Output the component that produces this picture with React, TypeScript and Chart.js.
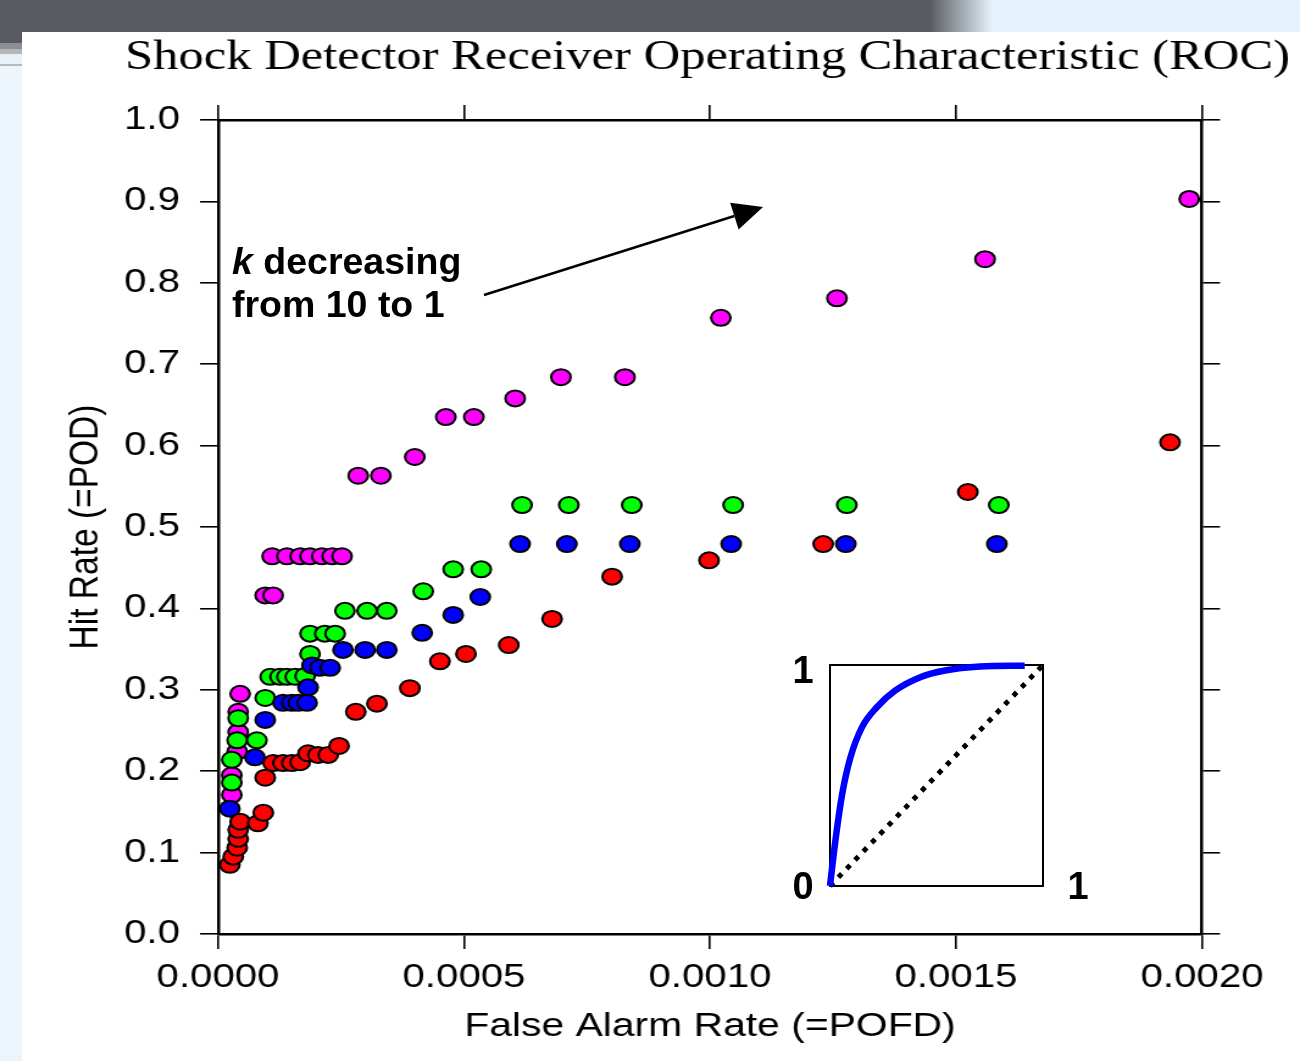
import React, { useEffect, useRef } from "react";
import { Chart, registerables } from "chart.js";

Chart.register(...registerables);

// ---------------- data ----------------
const TITLE = "Shock Detector Receiver Operating Characteristic (ROC)";
const X_TITLE = "False Alarm Rate (=POFD)";
const Y_TITLE = "Hit Rate (=POD)";

const X_TICKS = [0, 0.0005, 0.001, 0.0015, 0.002];
const X_TICK_LABELS = ["0.0000", "0.0005", "0.0010", "0.0015", "0.0020"];
const Y_TICKS = [0, 0.1, 0.2, 0.3, 0.4, 0.5, 0.6, 0.7, 0.8, 0.9, 1.0];
const Y_TICK_LABELS = ["0.0", "0.1", "0.2", "0.3", "0.4", "0.5", "0.6", "0.7", "0.8", "0.9", "1.0"];

const MAGENTA_POFD = [
  0.000028, 0.000028, 0.000039, 0.000041, 0.000041, 0.000045, 0.000096, 0.000112,
  0.00011, 0.00014, 0.000167, 0.000187, 0.000211, 0.000232, 0.000252, 0.000285,
  0.000331, 0.0004, 0.000463, 0.00052, 0.000604, 0.000697, 0.000827, 0.001022,
  0.001258, 0.001559, 0.001974,
];
const MAGENTA_POD = [
  0.171, 0.195, 0.224, 0.248, 0.273, 0.295, 0.416, 0.416,
  0.464, 0.464, 0.464, 0.464, 0.464, 0.464, 0.464, 0.563,
  0.563, 0.586, 0.635, 0.635, 0.658, 0.684, 0.684, 0.757,
  0.781, 0.829, 0.903,
];

const GREEN_POFD = [
  0.000028, 0.000028, 0.000039, 0.000079, 0.000041, 0.000096, 0.000106, 0.000126,
  0.00014, 0.000157, 0.000177, 0.000187, 0.000187, 0.000217, 0.000238, 0.000258,
  0.000303, 0.000343, 0.000417, 0.000478, 0.000535, 0.000618, 0.000713, 0.000841,
  0.001047, 0.001278, 0.001587,
];
const GREEN_POD = [
  0.186, 0.214, 0.238, 0.238, 0.265, 0.29, 0.316, 0.316,
  0.316, 0.316, 0.317, 0.344, 0.369, 0.369, 0.369, 0.397,
  0.397, 0.397, 0.421, 0.448, 0.448, 0.527, 0.527, 0.527,
  0.527, 0.527, 0.527,
];

const BLUE_POFD = [
  0.000024, 0.000075, 0.000096, 0.000132, 0.00015, 0.000163, 0.000181, 0.000183,
  0.000191, 0.000207, 0.000228, 0.000254, 0.000299, 0.000343, 0.000415, 0.000478,
  0.000533, 0.000614, 0.000709, 0.000837, 0.001043, 0.001276, 0.001583,
];
const BLUE_POD = [
  0.154, 0.217, 0.263, 0.284, 0.284, 0.284, 0.284, 0.303,
  0.33, 0.327, 0.327, 0.349, 0.349, 0.349, 0.37, 0.392,
  0.414, 0.479, 0.479, 0.479, 0.479, 0.479, 0.479,
];

const RED_POFD = [
  0.000024, 0.000031, 0.000039, 0.000041, 0.000041, 0.000045, 0.000081, 0.000092,
  0.000096, 0.000112, 0.000132, 0.00015, 0.000167, 0.000183, 0.000203, 0.000224,
  0.000246, 0.00028, 0.000323, 0.00039, 0.000451, 0.000504, 0.000591, 0.000679,
  0.000801, 0.000998, 0.00123, 0.001524, 0.001935,
];
const RED_POD = [
  0.085, 0.095, 0.106, 0.117, 0.128, 0.138, 0.136, 0.149,
  0.192, 0.21, 0.21, 0.21, 0.211, 0.222, 0.22, 0.22,
  0.231, 0.273, 0.283, 0.302, 0.335, 0.344, 0.355, 0.387,
  0.439, 0.459, 0.479, 0.543, 0.604,
];

// inset schematic ROC curve
const INSET_FPR = [0, 0.026, 0.058, 0.097, 0.151, 0.221, 0.307, 0.424, 0.54, 0.704, 0.914];
const INSET_TPR = [0, 0.21, 0.42, 0.585, 0.72, 0.81, 0.885, 0.945, 0.975, 0.993, 0.997];
const DIAG_X = [0, 1];
const DIAG_Y = [0, 1];

const ANNOT_K = "k";
const ANNOT_LINE1 = " decreasing";
const ANNOT_LINE2 = "from 10 to 1";

// ---------------- layout ----------------
const CW = 1066;
const CH = 1061;
const SX = 1300 / CW; // horizontal stretch of the original figure
const PLOT_L = 218 / SX;
const PLOT_R = 1202 / SX;
const PLOT_T = 120;
const PLOT_B = 934;
const TITLE_SIZE = 41.5;
const TITLE_PAD_TOP = 33;
const TITLE_H = TITLE_PAD_TOP + TITLE_SIZE * 1.2;
const PAD_R = CW - 1290 / SX;
const Y_TICK_LEN = 18 / SX;

const SANS = "'Liberation Sans', Arial, Helvetica, sans-serif";
const SERIF = "'Liberation Serif', 'Times New Roman', serif";

const zip = (xs: number[], ys: number[]) => xs.map((x, i) => ({ x, y: ys[i] }));

const pointDs = (label: string, xs: number[], ys: number[], color: string) => ({
  label,
  data: zip(xs, ys),
  showLine: false,
  pointRadius: 8,
  pointHoverRadius: 8,
  pointBorderWidth: 2,
  pointBorderColor: "#000",
  pointBackgroundColor: color,
  backgroundColor: color,
  borderColor: "#000",
});

const gridOpts = (tickLength: number) => ({
  display: true,
  drawOnChartArea: false,
  drawTicks: true,
  tickLength,
  tickWidth: 1.6,
  tickColor: "#000",
  color: "#000",
  lineWidth: 1.6,
});
const borderOpts = { display: true, color: "#000", width: 2.5 };

const setXTicks = (s: any) => {
  s.ticks = X_TICKS.map((v) => ({ value: v }));
};
const setYTicks = (s: any) => {
  s.ticks = Y_TICKS.map((v) => ({ value: v }));
};

const annotationPlugin = {
  id: "insetAnnotations",
  afterDraw(chart: any) {
    const { ctx, chartArea } = chart;
    ctx.save();
    ctx.fillStyle = "#000";
    // inset axis labels
    ctx.font = `bold 38px ${SANS}`;
    ctx.textAlign = "center";
    ctx.textBaseline = "middle";
    ctx.fillText("1", chartArea.left - 27, chartArea.top + 8);
    ctx.fillText("0", chartArea.left - 27, chartArea.bottom + 3);
    ctx.fillText("1", chartArea.right + 35, chartArea.bottom + 3);

    // "k decreasing from 10 to 1"
    ctx.textAlign = "left";
    ctx.textBaseline = "alphabetic";
    ctx.font = `italic bold 37.5px ${SANS}`;
    ctx.fillText(ANNOT_K, 232, 274);
    const kw = ctx.measureText(ANNOT_K).width;
    ctx.font = `bold 37.5px ${SANS}`;
    ctx.fillText(ANNOT_LINE1, 232 + kw, 274);
    ctx.fillText(ANNOT_LINE2, 232, 317);

    // arrow
    const x0 = 484, y0 = 295, tx = 763, ty = 207;
    const ang = Math.atan2(ty - y0, tx - x0);
    const headLen = 30, headHalf = 14;
    const bx = tx - headLen * Math.cos(ang);
    const by = ty - headLen * Math.sin(ang);
    ctx.strokeStyle = "#000";
    ctx.lineWidth = 2.5;
    ctx.beginPath();
    ctx.moveTo(x0, y0);
    ctx.lineTo(bx, by);
    ctx.stroke();
    ctx.beginPath();
    ctx.moveTo(tx, ty);
    ctx.lineTo(bx - headHalf * Math.sin(ang), by + headHalf * Math.cos(ang));
    ctx.lineTo(bx + headHalf * Math.sin(ang), by - headHalf * Math.cos(ang));
    ctx.closePath();
    ctx.fill();
    ctx.restore();
  },
};

export default function App() {
  const mainRef = useRef<HTMLCanvasElement>(null);
  const insetRef = useRef<HTMLCanvasElement>(null);

  useEffect(() => {
    if (!mainRef.current || !insetRef.current) return;
    const main = new Chart(mainRef.current, {
      type: "scatter",
      data: {
        datasets: [
          pointDs("red", RED_POFD, RED_POD, "#ff0000"),
          pointDs("blue", BLUE_POFD, BLUE_POD, "#0000ff"),
          pointDs("green", GREEN_POFD, GREEN_POD, "#00ff00"),
          pointDs("magenta", MAGENTA_POFD, MAGENTA_POD, "#ff00ff"),
        ],
      },
      options: {
        responsive: false,
        animation: false,
        devicePixelRatio: 1,
        events: [],
        layout: { padding: { left: 0, top: 0, right: PAD_R, bottom: 0 } },
        plugins: {
          legend: { display: false },
          tooltip: { enabled: false },
          title: {
            display: true,
            text: TITLE,
            align: "end",
            color: "#000",
            font: { family: SERIF, size: TITLE_SIZE, weight: "normal" },
            padding: { top: TITLE_PAD_TOP, bottom: 0 },
          },
        },
        scales: {
          x: {
            type: "linear",
            position: "bottom",
            min: 0,
            max: 0.002,
            afterBuildTicks: setXTicks,
            afterFit: (s: any) => {
              s.height = CH - PLOT_B;
            },
            grid: gridOpts(15),
            border: borderOpts,
            ticks: {
              color: "#000",
              font: { family: SANS, size: 33 },
              padding: 9,
              maxRotation: 0,
              autoSkip: false,
              callback: (_v: any, i: number) => X_TICK_LABELS[i],
            },
            title: {
              display: true,
              text: X_TITLE,
              color: "#000",
              font: { family: SANS, size: 33.5 },
              padding: { top: 0, bottom: 14 },
            },
          },
          x2: {
            type: "linear",
            position: "top",
            min: 0,
            max: 0.002,
            afterBuildTicks: setXTicks,
            afterFit: (s: any) => {
              s.height = PLOT_T - TITLE_H;
            },
            grid: gridOpts(15),
            border: borderOpts,
            ticks: { display: false },
          },
          y: {
            type: "linear",
            position: "left",
            min: 0,
            max: 1,
            afterBuildTicks: setYTicks,
            afterFit: (s: any) => {
              s.width = PLOT_L;
            },
            grid: gridOpts(Y_TICK_LEN),
            border: borderOpts,
            ticks: {
              color: "#000",
              font: { family: SANS, size: 33 },
              padding: 16.4,
              autoSkip: false,
              callback: (_v: any, i: number) => Y_TICK_LABELS[i],
            },
            title: {
              display: true,
              text: Y_TITLE,
              color: "#000",
              font: { family: SANS, size: 33.5 },
              padding: { top: 50.4, bottom: 0 },
            },
          },
          y2: {
            type: "linear",
            position: "right",
            min: 0,
            max: 1,
            afterBuildTicks: setYTicks,
            afterFit: (s: any) => {
              s.width = CW - PAD_R - PLOT_R;
            },
            grid: gridOpts(Y_TICK_LEN),
            border: borderOpts,
            ticks: { display: false },
          },
        },
      } as any,
    });

    const insetScale = (position: string, vertical: boolean) => ({
      type: "linear",
      position,
      min: 0,
      max: 1,
      display: true,
      grid: { display: false, drawTicks: false, tickLength: 0 },
      ticks: { display: false },
      border: { display: true, color: "#000", width: 2 },
      afterFit: (s: any) => {
        if (vertical) s.width = 0;
        else s.height = 0;
      },
    });

    const inset = new Chart(insetRef.current, {
      type: "line",
      data: {
        datasets: [
          {
            label: "ROC",
            data: zip(INSET_FPR, INSET_TPR),
            borderColor: "#0000ff",
            borderWidth: 6.5,
            pointRadius: 0,
            fill: false,
            cubicInterpolationMode: "monotone",
            clip: false,
          },
          {
            label: "chance",
            data: zip(DIAG_X, DIAG_Y),
            borderColor: "#000",
            borderWidth: 5,
            borderDash: [5, 7],
            pointRadius: 0,
            fill: false,
            clip: false,
          },
        ],
      },
      options: {
        responsive: false,
        animation: false,
        devicePixelRatio: 1,
        events: [],
        layout: { padding: { left: 830, top: 665, right: 1300 - 1043, bottom: 1061 - 886 } },
        plugins: { legend: { display: false }, tooltip: { enabled: false }, title: { display: false } },
        scales: {
          x: insetScale("bottom", false),
          x2: insetScale("top", false),
          y: insetScale("left", true),
          y2: insetScale("right", true),
        },
      } as any,
      plugins: [annotationPlugin],
    });

    return () => {
      main.destroy();
      inset.destroy();
    };
  }, []);

  return (
    <div
      style={{
        position: "fixed",
        left: 0,
        top: 0,
        width: 1300,
        height: 1061,
        overflow: "hidden",
        background: "#ffffff",
      }}
    >
      <div
        style={{
          position: "absolute",
          left: 0,
          top: 0,
          width: 1300,
          height: 32,
          background:
            "linear-gradient(90deg, #585c60 0px, #585c60 930px, #e6f2fb 992px, #e6f2fb 1300px)",
        }}
      />
      <div
        style={{
          position: "absolute",
          left: 0,
          top: 32,
          width: 22,
          height: 1029,
          background:
            "linear-gradient(180deg, #585c60 0px, #585c60 11px, #8c9094 11px, #8c9094 17px, #b3b7ba 17px, #b3b7ba 22px, #e8f1f9 22px, #e8f1f9 32px, #b6babd 32px, #b6babd 34px, #edf5fc 34px, #edf5fc 1029px)",
        }}
      />
      <canvas
        ref={mainRef}
        width={CW}
        height={CH}
        style={{
          position: "absolute",
          left: 0,
          top: 0,
          width: CW,
          height: CH,
          transform: `scale(${SX}, 1)`,
          transformOrigin: "0 0",
        }}
      />
      <canvas
        ref={insetRef}
        width={1300}
        height={1061}
        style={{ position: "absolute", left: 0, top: 0, width: 1300, height: 1061 }}
      />
    </div>
  );
}
